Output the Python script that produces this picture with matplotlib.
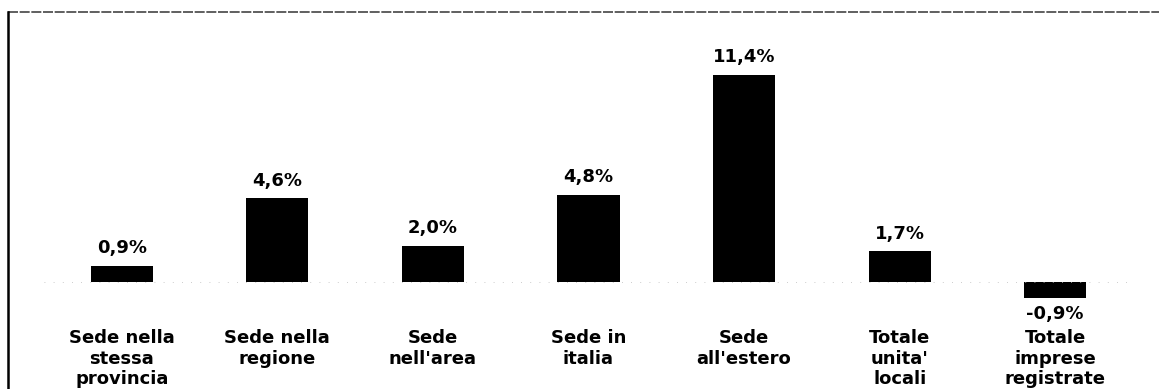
import matplotlib
matplotlib.use("Agg")
import matplotlib.pyplot as plt
from matplotlib.lines import Line2D
from matplotlib.transforms import blended_transform_factory

categories = [
    "Sede nella\nstessa\nprovincia",
    "Sede nella\nregione",
    "Sede\nnell'area",
    "Sede in\nitalia",
    "Sede\nall'estero",
    "Totale\nunita'\nlocali",
    "Totale\nimprese\nregistrate",
]
values = [0.9, 4.6, 2.0, 4.8, 11.4, 1.7, -0.9]
value_labels = ["0,9%", "4,6%", "2,0%", "4,8%", "11,4%", "1,7%", "-0,9%"]

W, H = 1159, 389
fig = plt.figure(figsize=(W / 100, H / 100), dpi=100)
# axes placed so the baseline sits at y=282px and bars are 155px apart
ax = fig.add_axes([44 / W, 1 - 309.3 / H, (1133 - 44) / W, (309.3 - 45.4) / H])
x = list(range(len(values)))
ax.bar(x, values, width=0.4, color="black")
ax.set_xlim(-0.5, 6.5)
ax.set_ylim(-1.5, 13)
ax.axhline(0, color="#bbbbbb", lw=0.6, ls=(0, (1, 10)))
ax.axis("off")

font = dict(family="DejaVu Sans", weight="bold")
for xi, v, lab in zip(x, values, value_labels):
    if v >= 0:
        ax.annotate(lab, (xi, v), xytext=(0, 6), textcoords="offset points",
                    ha="center", va="bottom", fontsize=13, **font)
    else:
        ax.annotate(lab, (xi, v), xytext=(0, -5), textcoords="offset points",
                    ha="center", va="top", fontsize=13, **font)

# category labels under the bars
trans = blended_transform_factory(ax.transData, fig.transFigure)
for xi, cat in zip(x, categories):
    ax.text(xi, 1 - 329 / H, cat, transform=trans, ha="center", va="top",
            fontsize=13, linespacing=1.18, **font)

# frame lines from the scan
fig.add_artist(Line2D([8 / W, 1], [1 - 12 / H, 1 - 12 / H], transform=fig.transFigure,
                      color="#444444", lw=1.2, ls=(0, (6, 1))))
fig.add_artist(Line2D([8 / W, 8 / W], [0, 1 - 12 / H], transform=fig.transFigure,
                      color="black", lw=1.8))

fig.savefig("out.png", dpi=100, facecolor="white")
